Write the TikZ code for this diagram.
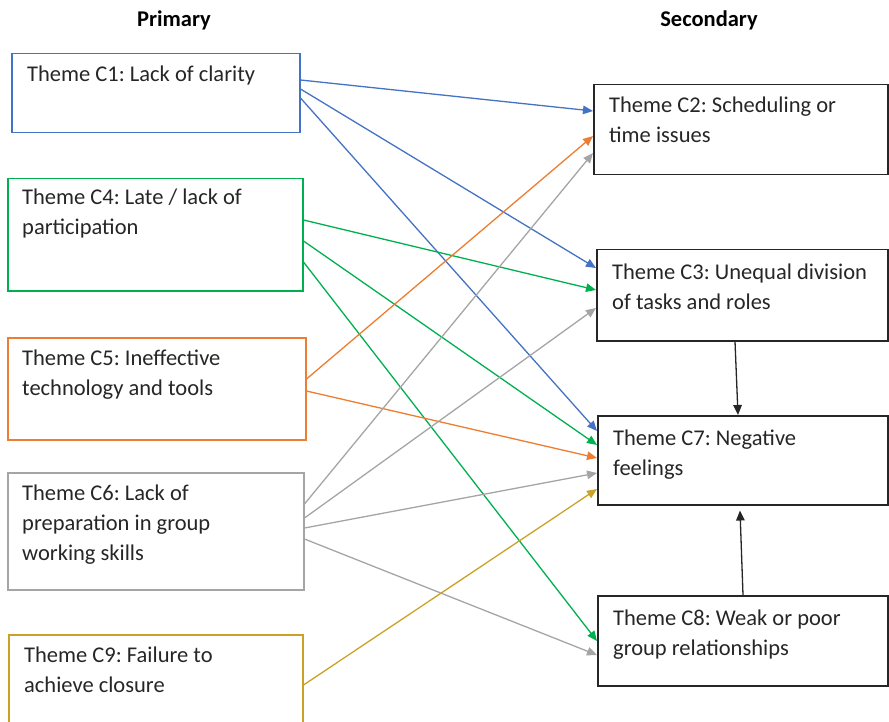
\documentclass[tikz,border=0pt]{standalone}
\usepackage{fontspec}
\setmainfont{Carlito}
\frenchspacing
\usetikzlibrary{arrows.meta}
\definecolor{cblue}{HTML}{4472C4}
\definecolor{cgreen}{HTML}{00B050}
\definecolor{corange}{HTML}{ED7D31}
\definecolor{cgray}{HTML}{A5A5A5}
\definecolor{cgold}{HTML}{C9A227}
\definecolor{cblack}{HTML}{262626}
\tikzset{
  themebox/.style={draw=#1, line width=1.5pt, rectangle, inner sep=0pt, anchor=north west},
  themetext/.style={anchor=base west, align=left, inner sep=0pt, text=black!85,
    font=\fontsize{22.5}{30}\selectfont\frenchspacing},
  headtext/.style={anchor=base, inner sep=0pt, font=\fontsize{22.5}{26}\selectfont\bfseries},
  link/.style={draw=#1, line width=1.3pt, -{Triangle[length=10pt,width=8.5pt]}},
}
\begin{document}
\begin{tikzpicture}[x=1pt,y=-1pt]
\clip (0,0) rectangle (889,722);
\useasboundingbox (0,0) rectangle (889,722);
% headers
\node[headtext] (hp) at (174,27) {Primary};
\node[headtext] (hs) at (709,27) {Secondary};
% left boxes
\node[themebox=cblue, minimum width=288pt, minimum height=79pt] (c1) at (11,53) {};
\node[themebox=cgreen, minimum width=295pt, minimum height=112pt] (c4) at (7,178) {};
\node[themebox=corange, minimum width=298pt, minimum height=102pt] (c5) at (7,337) {};
\node[themebox=cgray, minimum width=296pt, minimum height=117pt] (c6) at (7,472) {};
\node[themebox=cgold, minimum width=294pt, minimum height=110pt] (c9) at (8,634) {};
% right boxes
\node[themebox=cblack, minimum width=294pt, minimum height=90pt] (c2) at (593,84) {};
\node[themebox=cblack, minimum width=291pt, minimum height=91pt] (c3) at (596,249) {};
\node[themebox=cblack, minimum width=290pt, minimum height=89pt] (c7) at (597,415) {};
\node[themebox=cblack, minimum width=290pt, minimum height=90pt] (c8) at (597,595) {};
% texts (base anchor = baseline of last line)
\node[themetext] (t1) at ([xshift=16pt,yshift=-29pt]c1.north west) {Theme C1: Lack of clarity};
\node[themetext] (t4) at ([xshift=15pt,yshift=-57pt]c4.north west) {Theme C4: Late / lack of\\participation};
\node[themetext] (t5) at ([xshift=15pt,yshift=-58pt]c5.north west) {Theme C5: Ineffective\\technology and tools};
\node[themetext] (t6) at ([xshift=15pt,yshift=-88pt]c6.north west) {Theme C6: Lack of\\preparation in group\\working skills};
\node[themetext] (t9) at ([xshift=16pt,yshift=-58pt]c9.north west) {Theme C9: Failure to\\achieve closure};
\node[themetext] (t2) at ([xshift=16pt,yshift=-59pt]c2.north west) {Theme C2: Scheduling or\\time issues};
\node[themetext] (t3) at ([xshift=16pt,yshift=-60pt]c3.north west) {Theme C3: Unequal division\\of tasks and roles};
\node[themetext] (t7) at ([xshift=16pt,yshift=-60pt]c7.north west) {Theme C7: Negative\\feelings};
\node[themetext] (t8) at ([xshift=16pt,yshift=-60pt]c8.north west) {Theme C8: Weak or poor\\group relationships};
% blue
\draw[link=cblue] ([yshift=-27pt]c1.north east) -- ([yshift=-27pt]c2.north west);
\draw[link=cblue] ([yshift=-36pt]c1.north east) -- ([yshift=-19pt]c3.north west);
\draw[link=cblue] ([yshift=-45pt]c1.north east) -- ([yshift=-16pt]c7.north west);
% green
\draw[link=cgreen] ([yshift=-42pt]c4.north east) -- ([yshift=-41pt]c3.north west);
\draw[link=cgreen] ([yshift=-63pt]c4.north east) -- ([yshift=-30pt]c7.north west);
\draw[link=cgreen] ([yshift=-84pt]c4.north east) -- ([yshift=-46pt]c8.north west);
% orange
\draw[link=corange] ([yshift=-42pt]c5.north east) -- ([yshift=-52pt]c2.north west);
\draw[link=corange] ([yshift=-54pt]c5.north east) -- ([yshift=-43pt]c7.north west);
% gray
\draw[link=cgray] ([yshift=-32pt]c6.north east) -- ([yshift=-69pt]c2.north west);
\draw[link=cgray] ([yshift=-46pt]c6.north east) -- ([yshift=-59pt]c3.north west);
\draw[link=cgray] ([yshift=-56pt]c6.north east) -- ([yshift=-58pt]c7.north west);
\draw[link=cgray] ([yshift=-67pt]c6.north east) -- ([yshift=-60pt]c8.north west);
% gold
\draw[link=cgold] ([yshift=-51pt]c9.north east) -- ([yshift=-74pt]c7.north west);
% black
\draw[link=cblack] ([xshift=139pt]c3.south west) -- ([xshift=141pt]c7.north west);
\draw[link=cblack] ([xshift=146pt]c8.north west) -- ([xshift=143pt,yshift=-5pt]c7.south west);
\end{tikzpicture}
\end{document}
